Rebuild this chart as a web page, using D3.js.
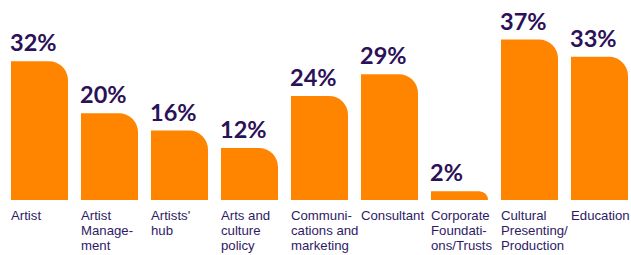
<!DOCTYPE html>
<html><head><meta charset="utf-8">
<script src="https://cdn.jsdelivr.net/npm/d3@7"></script>
<style>html,body{margin:0;padding:0;background:#fff;}</style>
</head><body>
<svg id="chart" width="631" height="255"></svg>
<script>
const categories = [
  ["Artist"],
  ["Artist", "Manage-", "ment"],
  ["Artists'", "hub"],
  ["Arts and", "culture", "policy"],
  ["Communi-", "cations and", "marketing"],
  ["Consultant"],
  ["Corporate", "Foundati-", "ons/Trusts"],
  ["Cultural", "Presenting/", "Production"],
  ["Education"]
];
const values = [32, 20, 16, 12, 24, 29, 2, 37, 33];

const svg = d3.select("#chart");
const orange = "#FF8500", purple = "#2B1158";
const baseline = 200;
const x = d3.scaleBand().domain(d3.range(values.length)).range([11, 628]).paddingInner(13 / 70).paddingOuter(0);
const y = d3.scaleLinear().domain([0, 37]).range([baseline, 39.5]);

function barPath(x0, w, top, bottom, r) {
  r = Math.min(r, bottom - top, w);
  return `M${x0},${bottom}V${top}H${x0 + w - r}A${r},${r} 0 0 1 ${x0 + w},${top + r}V${bottom}Z`;
}

const g = svg.append("g");
values.forEach((v, i) => {
  const x0 = x(i), w = x.bandwidth();
  g.append("path").attr("d", barPath(x0, w, y(v), baseline, 19)).attr("fill", orange);
  g.append("text").attr("x", x0 - 1).attr("y", y(v) - 10)
    .attr("font-family", "Lato, sans-serif").attr("font-weight", 700)
    .attr("font-size", 23.5).attr("fill", purple).text(v + "%");
  const t = g.append("text").attr("x", x0).attr("y", 219.5)
    .attr("font-family", "Liberation Sans, Arial, sans-serif")
    .attr("font-size", 13.2).attr("fill", "#2E1A66");
  categories[i].forEach((line, j) => {
    t.append("tspan").attr("x", x0).attr("dy", j === 0 ? 0 : 15).text(line);
  });
});
</script>
</body></html>
